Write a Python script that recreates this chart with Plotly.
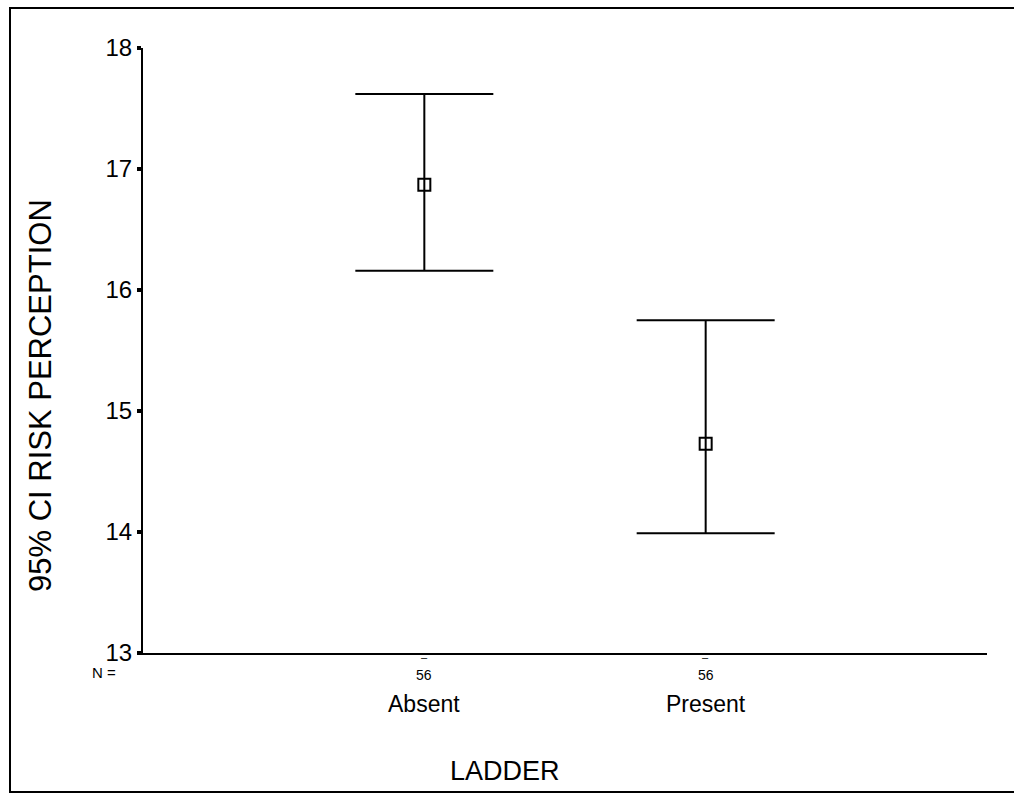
import plotly.graph_objects as go

categories = ["Absent", "Present"]
n_values = ["56", "56"]
means = [16.87, 14.73]
upper = [17.62, 15.75]
lower = [16.16, 13.99]

W, H = 1014, 794
L, R, T, B = 143, 27, 48, 141
pw, ph = W - L - R, H - T - B

def px_x(p):
    return (p - L) / pw

def px_y(p):
    return (H - B - p) / ph

xpos = [1, 2]
fig = go.Figure()
fig.add_trace(go.Scatter(
    x=xpos, y=means, mode="markers",
    marker=dict(symbol="square-open", size=12, color="black", line=dict(width=2)),
    error_y=dict(type="data", symmetric=False,
                 array=[u - m for u, m in zip(upper, means)],
                 arrayminus=[m - l for m, l in zip(means, lower)],
                 color="black", thickness=2, width=69),
    showlegend=False, hoverinfo="skip"))

font = "Liberation Sans, Arial, sans-serif"
ann = []
for x, c, n in zip(xpos, categories, n_values):
    ann.append(dict(x=x, xref="x", y=px_y(675), yref="paper", text=n, showarrow=False,
                    font=dict(family=font, size=14, color="black"), yanchor="middle"))
    ann.append(dict(x=x, xref="x", y=px_y(657), yref="paper", text="–", showarrow=False,
                    font=dict(family=font, size=11, color="black"), yanchor="middle"))
    ann.append(dict(x=x, xref="x", y=px_y(704), yref="paper", text=c, showarrow=False,
                    font=dict(family=font, size=23, color="black"), yanchor="middle"))
ann.append(dict(x=px_x(90), xref="paper", y=px_y(673), yref="paper", text="N =", showarrow=False,
                font=dict(family=font, size=15, color="black"), yanchor="middle"))
ann.append(dict(x=px_x(505), xref="paper", y=px_y(771), yref="paper", text="LADDER", showarrow=False,
                font=dict(family=font, size=27, color="black"), yanchor="middle"))
ann.append(dict(x=px_x(41), xref="paper", y=px_y(396), yref="paper", text="95% CI RISK PERCEPTION",
                textangle=-90, showarrow=False,
                font=dict(family=font, size=31, color="black"), xanchor="center", yanchor="middle"))

fig.update_layout(
    width=W, height=H,
    margin=dict(l=L, r=R, t=T, b=B),
    paper_bgcolor="white", plot_bgcolor="white",
    annotations=ann,
    shapes=[dict(type="rect", xref="paper", yref="paper",
                 x0=px_x(10), x1=px_x(1016), y0=px_y(792), y1=px_y(8),
                 line=dict(color="black", width=2), layer="below")],
    xaxis=dict(range=[0, 3], showticklabels=False, ticks="", showgrid=False,
               zeroline=False, showline=True, linecolor="black", linewidth=2),
    yaxis=dict(range=[13, 18], tickvals=[13, 14, 15, 16, 17, 18], ticks="outside",
               ticklen=4, tickwidth=4, tickcolor="black", showgrid=False, zeroline=False,
               showline=True, linecolor="black", linewidth=2,
               tickfont=dict(family=font, size=24, color="black")),
)

fig.write_html("out.html")
